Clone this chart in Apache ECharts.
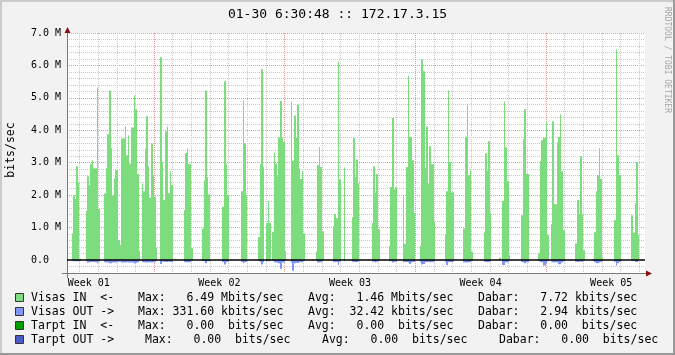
<!DOCTYPE html>
<html><head><meta charset="utf-8">
<script src="https://cdn.jsdelivr.net/npm/echarts@6/dist/echarts.min.js"></script>
<style>html,body{margin:0;padding:0;background:#f2f2f2}#c{width:675px;height:355px}</style>
</head><body><div id="c"></div>
<script>
// ---------- data ----------
const titleText = '01-30 6:30:48 :: 172.17.3.15';
const unitLabel = 'bits/sec';
const watermark = 'RRDTOOL / TOBI OETIKER';
const weekLabels = ['Week 01', 'Week 02', 'Week 03', 'Week 04', 'Week 05'];
const weekCenters = [84, 252, 420, 588, 756];          // hours from week 01 start
const weekLines = [168, 336, 504, 672];
const yTickValues = [0, 1, 2, 3, 4, 5, 6, 7];          // Mbits/sec
const sampleHours = 2;
const firstSample = 28, lastSample = 399;               // 2-hour samples shown
// activity bursts: first sample index, IN and OUT values (Mbits/sec)
const burstStart = [31, 40, 52, 76, 88, 103, 115, 128, 140, 151, 160, 172, 188, 199, 211, 224, 235, 244, 255, 271, 283, 296, 306, 308, 320, 331, 339, 355, 366, 380, 391];
const burstIn = [
  [0.82, 2.0, 1.88, 2.89, 2.38, 0.05],
  [1.51, 2.58, 2.31, 2.95, 3.08, 2.83, 2.83, 5.32, 1.57],
  [2.05, 2.83, 3.88, 5.23, 3.45, 2.0, 2.52, 2.77, 2.77, 0.62, 0.46, 3.75, 3.75, 4.12, 3.23, 3.85, 2.97, 4.09, 4.09, 5.08, 4.65, 2.65, 0.28],
  [2.36, 2.12, 3.44, 4.43, 2.89, 1.92, 3.59, 2.62, 1.95, 0.39],
  [6.25, 3.02, 1.85, 3.97, 4.12, 2.06, 2.74, 2.31],
  [1.54, 3.3, 3.45, 2.97, 2.95, 0.36],
  [0.97, 2.46, 5.23, 2.56, 2.03],
  [1.64, 5.51, 2.95, 2.0],
  [2.12, 4.92, 3.6, 2.0],
  [0.71, 2.95, 5.88, 2.87, 0, 1.14, 1.82, 1.14],
  [0.87, 3.31, 2.97, 2.58, 3.78, 4.9, 3.77, 3.64, 0.28],
  [4.89, 3.06, 4.46, 3.78, 4.79, 2.83, 2.5, 2.74, 0.82],
  [0.26, 2.92, 3.48, 2.87, 0.89],
  [1.05, 1.42, 1.29, 6.12, 2.48, 0, 0, 2.86],
  [1.32, 3.76, 2.56, 3.1, 2.37],
  [1.14, 2.89, 2.08, 2.65, 0.95],
  [0.43, 2.25, 4.38, 2.18, 2.25],
  [1.98, 0.5, 2.87, 5.69, 3.79, 3.79, 3.08, 1.45],
  [0.43, 6.18, 5.82, 2.83, 4.12, 2.37, 3.51, 2.95, 2.95, 1.17],
  [0.8, 2.12, 5.23, 3.02, 2.09, 2.09],
  [0.97, 3.8, 4.8, 2.62, 2.77, 0.25],
  [0.86, 3.29, 2.75, 3.66, 1.46],
  [0.07],
  [1.82, 4.89, 3.48, 2.43, 0.15],
  [1.38, 3.72, 4.65, 2.65, 2.65],
  [0.2, 3.05, 3.69, 3.76, 3.76, 4.26, 0.77],
  [1.11, 4.28, 1.72, 1.72, 3.63, 3.79, 4.49, 2.74, 0.92],
  [0.51, 1.85, 1.42, 3.2, 1.4, 0.3],
  [0.05, 0.86, 2.12, 2.62, 3.45, 2.5, 0.1],
  [1.23, 6.49, 3.23, 2.62],
  [1.38, 0.85, 1.75, 3.02, 0.77]
];
const burstOut = [
  [0.03, 0.04, 0.04, 0.04, 0.04, 0.02],
  [0.04, 0.08, 0.08, 0.06, 0.06, 0.06, 0.07, 0.1, 0.05],
  [0.07, 0.08, 0.08, 0.1, 0.1, 0.08, 0.08, 0.08, 0.07, 0.05, 0.05, 0.08, 0.08, 0.08, 0.07, 0.08, 0.08, 0.08, 0.08, 0.11, 0.09, 0.07, 0.03],
  [0.06, 0.07, 0.08, 0.08, 0.08, 0.07, 0.08, 0.07, 0.07, 0.03],
  [0.12, 0.05, 0.05, 0.06, 0.06, 0.05, 0.06, 0.06],
  [0.06, 0.07, 0.07, 0.07, 0.07, 0.02],
  [0.03, 0.04, 0.1, 0.04, 0.04],
  [0.06, 0.14, 0.06, 0.05],
  [0.06, 0.1, 0.07, 0.06],
  [0.03, 0.06, 0.14, 0.06, 0, 0.03, 0.04, 0.03],
  [0.03, 0.07, 0.08, 0.08, 0.1, 0.27, 0.08, 0.08, 0.02],
  [0.08, 0.3316, 0.1, 0.09, 0.09, 0.07, 0.07, 0.07, 0.03],
  [0.02, 0.08, 0.08, 0.07, 0.03],
  [0.06, 0.06, 0.06, 0.15, 0.05, 0, 0, 0.04],
  [0.05, 0.06, 0.06, 0.06, 0.05],
  [0.05, 0.05, 0.08, 0.05, 0.03],
  [0.04, 0.04, 0.08, 0.05, 0.05],
  [0.06, 0.06, 0.06, 0.08, 0.12, 0.08, 0.06, 0.05],
  [0.06, 0.14, 0.12, 0.07, 0.06, 0.06, 0.07, 0.06, 0.06, 0.04],
  [0.06, 0.15, 0.07, 0.06, 0.06, 0.05],
  [0.07, 0.08, 0.08, 0.07, 0.07, 0.03],
  [0.05, 0.06, 0.07, 0.06, 0.04],
  [0],
  [0.15, 0.15, 0.07, 0.07, 0.02],
  [0.06, 0.08, 0.1, 0.07, 0.07],
  [0.04, 0.06, 0.07, 0.17, 0.17, 0.1, 0.04],
  [0.05, 0.07, 0.08, 0.07, 0.08, 0.13, 0.13, 0.08, 0.04],
  [0.05, 0.06, 0.05, 0.05, 0.05, 0.02],
  [0.03, 0.07, 0.1, 0.1, 0.08, 0.06, 0.02],
  [0.05, 0.18, 0.1, 0.06],
  [0.02, 0.03, 0.06, 0.06, 0.03]
];
const legendNames = ['Visas IN  <-', 'Visas OUT ->', 'Tarpt IN  <-', 'Tarpt OUT ->'];
const legendMax   = ['  6.49 Mbits/sec', '331.60 kbits/sec', '  0.00  bits/sec', '  0.00  bits/sec'];
const legendAvg   = ['  1.46 Mbits/sec', ' 32.42 kbits/sec', '  0.00  bits/sec', '  0.00  bits/sec'];
const legendNow   = ['  7.72 kbits/sec', '  2.94 kbits/sec', '  0.00  bits/sec', '  0.00  bits/sec'];

// ---------- styling ----------
const C_IN = '#7ddc7d', C_OUT = '#8296fa', C_TIN = '#00a000', C_TOUT = '#4a5bc4';
const legendColors = [C_IN, C_OUT, C_TIN, C_TOUT];
const MONO = '"DejaVu Sans Mono", monospace';
const GREY = '#c9c9c9', RED = '#e59898', AX = '#7a7a7a', ARROW = '#8a1010';

// ---------- series data: one item per burst ----------
const burstItems = burstStart.map((s, b) => [s * sampleHours, 0, b]);
const xMin = firstSample * sampleHours, xMax = 799.5;
const dayLines = [];
for (let h = 72; h < xMax; h += 24) if (weekLines.indexOf(h) < 0) dayLines.push(h);
const minorY = [];
for (let k = -1; k <= 34; k++) if (k % 5 !== 0) minorY.push(Math.round(k * 20) / 100);

// draws a burst as a stepped polygon (each 2-hour sample holds its value), pixel-snapped in x
function makeRenderer(values, sign) {
  return function (params, api) {
    const b = api.value(2);
    const s = burstStart[b], vals = values[b];
    const pts = [];
    const y0 = api.coord([s * sampleHours, 0])[1];
    pts.push([Math.round(api.coord([s * sampleHours, 0])[0]), y0]);
    for (let k = 0; k < vals.length; k++) {
      const ha = (s + k) * sampleHours, hb = ha + sampleHours;
      const pa = api.coord([ha, sign * vals[k]]), pb = api.coord([hb, sign * vals[k]]);
      pts.push([Math.round(pa[0]), pa[1]]);
      pts.push([Math.round(pb[0]), pb[1]]);
    }
    pts.push([Math.round(api.coord([(s + vals.length) * sampleHours, 0])[0]), y0]);
    return {type: 'polygon', shape: {points: pts}, style: {fill: api.visual('color')}};
  };
}

// ---------- graphic (frame, legend, labels) ----------
const g = [];
g.push({type: 'rect', shape: {x: 0, y: 0, width: 675, height: 2}, style: {fill: '#cbcbcb'}, silent: true});
g.push({type: 'rect', shape: {x: 0, y: 0, width: 2, height: 355}, style: {fill: '#cbcbcb'}, silent: true});
g.push({type: 'rect', shape: {x: 0, y: 353, width: 675, height: 2}, style: {fill: '#999999'}, silent: true});
g.push({type: 'rect', shape: {x: 673, y: 0, width: 2, height: 355}, style: {fill: '#999999'}, silent: true});
g.push({type: 'line', shape: {x1: 67.5, y1: 273, x2: 67.5, y2: 278}, style: {stroke: AX, lineWidth: 1}, silent: true});
g.push({type: 'line', shape: {x1: 62, y1: 273.5, x2: 67, y2: 273.5}, style: {stroke: AX, lineWidth: 1}, silent: true});
g.push({type: 'line', shape: {x1: 645, y1: 273.5, x2: 648, y2: 273.5}, style: {stroke: AX, lineWidth: 1}, silent: true});
g.push({type: 'line', shape: {x1: 67.5, y1: 30, x2: 67.5, y2: 33}, style: {stroke: AX, lineWidth: 1}, silent: true});
g.push({type: 'polygon', shape: {points: [[64.5, 33], [70.5, 33], [67.5, 27]]}, style: {fill: ARROW}, silent: true, z: 10});
g.push({type: 'polygon', shape: {points: [[646, 270.5], [646, 276.5], [652, 273.5]]}, style: {fill: ARROW}, silent: true, z: 10});
g.push({type: 'text', x: 11, y: 150, rotation: Math.PI / 2, style: {text: unitLabel, font: '11.5px ' + MONO, fill: '#000', align: 'center', verticalAlign: 'middle'}, silent: true});
g.push({type: 'text', x: 667, y: 60, rotation: -Math.PI / 2, style: {text: watermark, font: '8px ' + MONO, fill: '#a6a6a6', align: 'center', verticalAlign: 'middle'}, silent: true});
const rowY = [298, 312, 326, 340];
const colX = [[31, 138, 308, 478], [31, 138, 308, 478], [31, 138, 308, 478], [31, 145, 322, 499]];
legendNames.forEach((name, r) => {
  g.push({type: 'rect', shape: {x: 15.5, y: rowY[r] - 4.5, width: 8, height: 8}, style: {fill: legendColors[r], stroke: '#333', lineWidth: 1}, silent: true});
  const parts = [name, 'Max: ' + legendMax[r], 'Avg: ' + legendAvg[r], 'Dabar: ' + legendNow[r]];
  parts.forEach((t, c) => {
    g.push({type: 'text', x: colX[r][c], y: rowY[r], style: {text: t, font: '11.5px ' + MONO, fill: '#000', align: 'left', verticalAlign: 'middle'}, silent: true});
  });
});

// ---------- chart ----------
const chart = echarts.init(document.getElementById('c'), null, {renderer: 'canvas'});
chart.setOption({
  animation: false,
  backgroundColor: '#f2f2f2',
  title: {text: titleText, left: 'center', top: 8, padding: 0,
    textStyle: {fontFamily: MONO, fontSize: 13, fontWeight: 'normal', color: '#000'}},
  grid: {left: 67, right: 30, top: 33, bottom: 82, show: true, backgroundColor: '#fff', borderWidth: 0},
  xAxis: [
    {type: 'value', min: xMin, max: xMax, position: 'bottom',
      axisLine: {show: true, onZero: false, lineStyle: {color: AX, width: 1}},
      axisTick: {show: false, customValues: dayLines},
      axisLabel: {customValues: weekCenters, margin: 5, fontFamily: MONO, fontSize: 10, color: '#000',
        formatter: v => weekLabels[Math.round((v - weekCenters[0]) / 168)]},
      splitLine: {show: true, lineStyle: {color: GREY, width: 1, type: [1, 1]}}},
    {type: 'value', min: xMin, max: xMax, position: 'bottom',
      axisLine: {show: false, onZero: false}, axisTick: {show: false, customValues: weekLines},
      axisLabel: {show: false},
      splitLine: {show: true, lineStyle: {color: RED, width: 1, type: [1, 1]}}}
  ],
  yAxis: [
    {type: 'value', min: -0.4, max: 7, position: 'left',
      axisLine: {show: true, onZero: false, lineStyle: {color: AX, width: 1}},
      axisTick: {show: false, customValues: minorY}, axisLabel: {show: false},
      splitLine: {show: true, lineStyle: {color: GREY, width: 1, type: [1, 1]}}},
    {type: 'value', min: -0.4, max: 7, position: 'left',
      axisLine: {show: false, onZero: false},
      axisTick: {show: false, customValues: yTickValues.filter(v => v > 0)},
      axisLabel: {customValues: yTickValues, margin: 6, fontFamily: MONO, fontSize: 10, color: '#000',
        formatter: v => v === 0 ? '0.0  ' : v.toFixed(1) + ' M'},
      splitLine: {show: true, lineStyle: {color: RED, width: 1, type: [1, 1]}}}
  ],
  series: [
    {name: 'Visas IN', type: 'custom', renderItem: makeRenderer(burstIn, 1), data: burstItems,
      xAxisIndex: 0, yAxisIndex: 0, z: 2, clip: true, itemStyle: {color: C_IN}, encode: {x: 0, y: 1}},
    {name: 'Visas OUT', type: 'custom', renderItem: makeRenderer(burstOut, -1), data: burstItems,
      xAxisIndex: 0, yAxisIndex: 0, z: 3, clip: true, itemStyle: {color: C_OUT}, encode: {x: 0, y: 1},
      markLine: {silent: true, symbol: ['none', 'none'], label: {show: false}, animation: false,
        lineStyle: {color: '#000', width: 1.6, type: 'solid'}, data: [{yAxis: 0}]}}
  ],
  graphic: g
});
</script>
</body></html>
